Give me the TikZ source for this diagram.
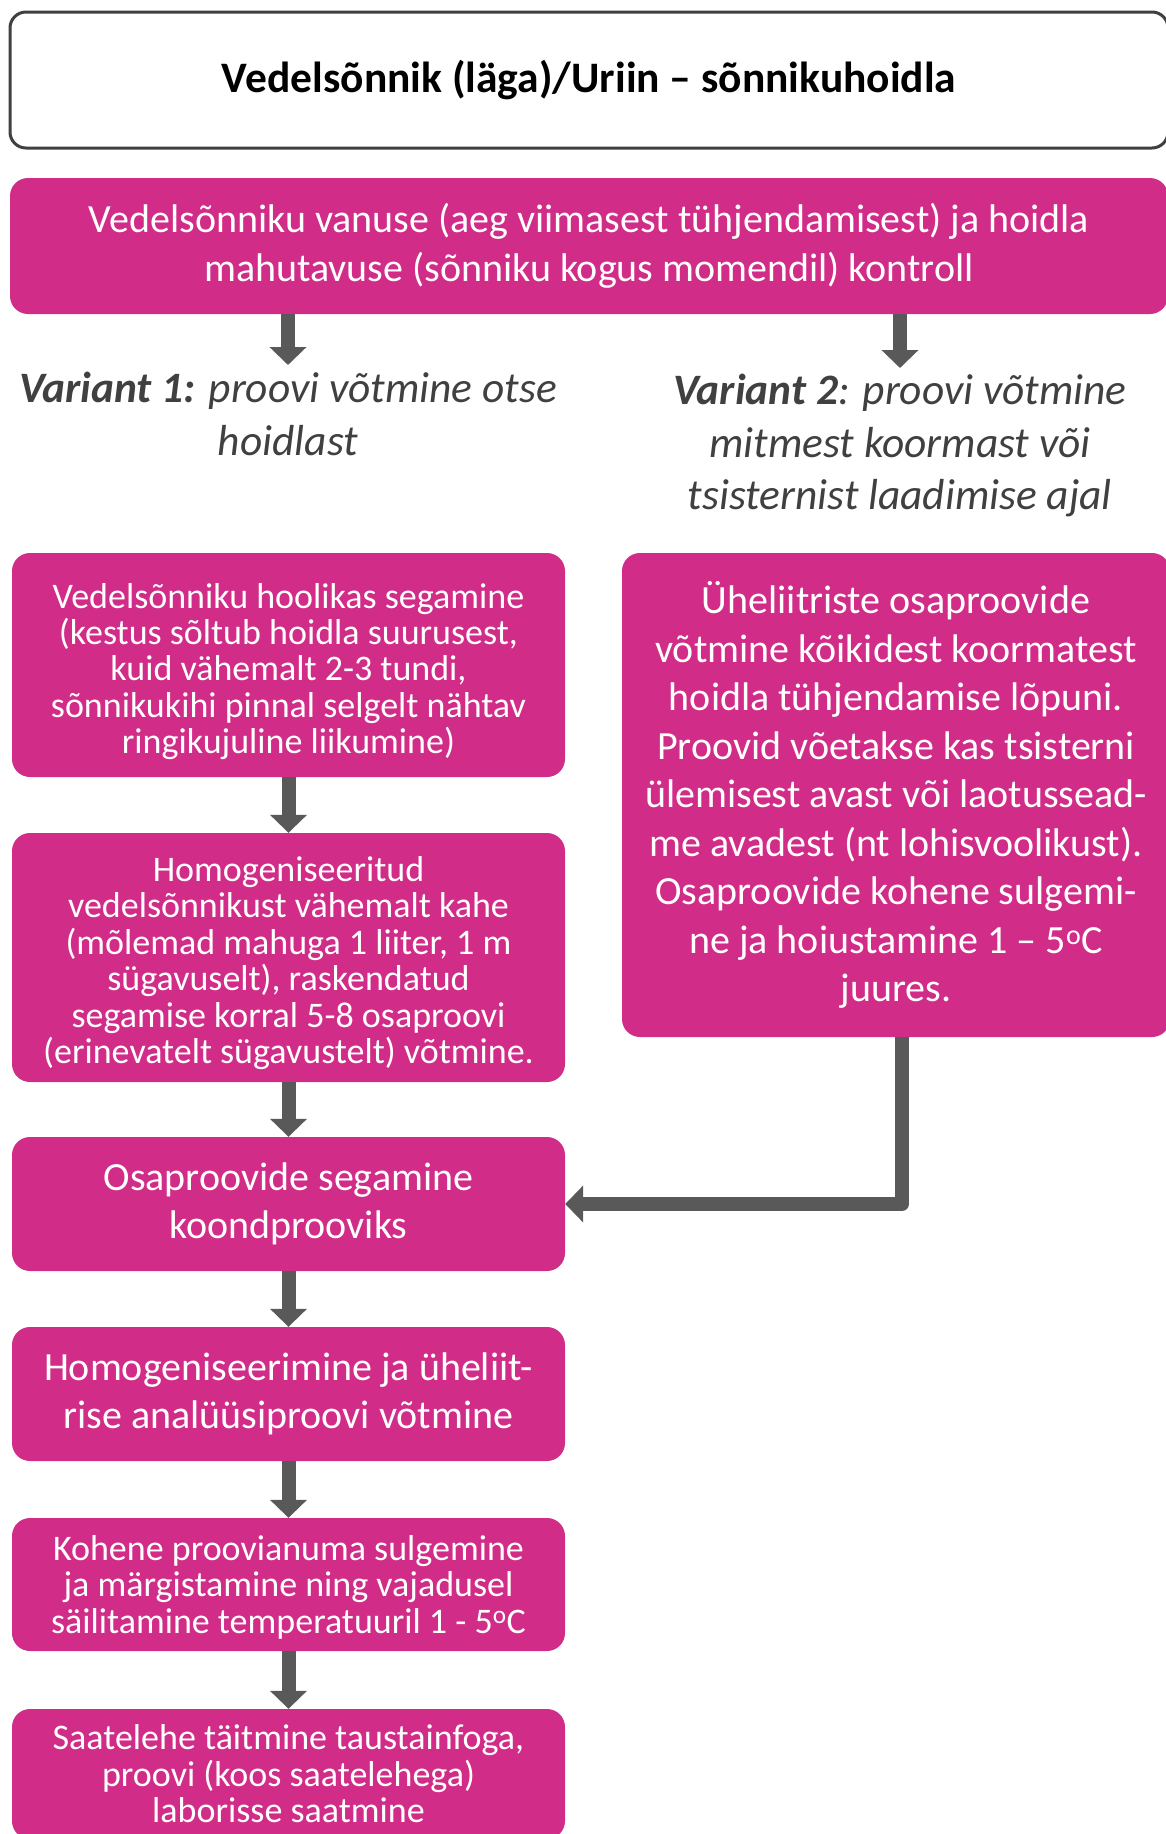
\documentclass[tikz,border=0pt]{standalone}
\usepackage{fontspec}
\setmainfont{Carlito}
\usetikzlibrary{arrows.meta}
\definecolor{pinkbox}{HTML}{D02C88}
\definecolor{arrgray}{HTML}{595959}
\definecolor{titleborder}{HTML}{404040}
\definecolor{vartext}{HTML}{404040}
\newcommand{\bigtxt}{\fontsize{40}{48.5}\selectfont}
\newcommand{\smalltxt}{\fontsize{36}{36.4}\selectfont}
\newcommand{\vartxt}{\fontsize{43.4}{52.6}\selectfont}
\newcommand{\toplift}[1]{\rule{0pt}{#1}}
\begin{document}
\begin{tikzpicture}[x=1pt,y=-1pt,
  pinkstep/.style={fill=pinkbox, draw=none, rounded corners=18pt, text=white,
    align=center, inner sep=0pt},
  conn/.style={draw=arrgray, line width=14pt, line join=round,
    -{Triangle[width=36pt,length=18pt]}},
  varlabel/.style={text=vartext, align=center, inner sep=0pt, anchor=north, font=\vartxt\itshape}]
\useasboundingbox (0,0) rectangle (1166,1834);
\clip (0,0) rectangle (1166,1834);

\node[draw=titleborder, line width=3pt, rounded corners=16pt, fill=white,
  minimum width=1158pt, minimum height=136pt, inner sep=0pt,
  font=\fontsize{43.5}{50}\selectfont\bfseries] (title) at (589,80)
  {Vedelsõnnik (läga)/Uriin – sõnnikuhoidla};

\node[pinkstep, minimum width=1158pt, minimum height=136pt, font=\bigtxt] (top) at (589,246)
  {Vedelsõnniku vanuse (aeg viimasest tühjendamisest) ja hoidla\\
   mahutavuse (sõnniku kogus momendil) kontroll};

\node[varlabel] (v1) at (288,372)
  {\textbf{Variant 1:} proovi võtmine otse\\ hoidlast};
\node[varlabel] (v2) at (900,374)
  {\textbf{Variant 2}: proovi võtmine\\ mitmest koormast või\\ tsisternist laadimise ajal};

\node[pinkstep, minimum width=553pt, minimum height=224pt, font=\smalltxt] (b2) at (288.5,665)
  {\toplift{38pt}Vedelsõnniku hoolikas segamine\\
   (kestus sõltub hoidla suurusest,\\
   kuid vähemalt 2-3 tundi,\\
   sõnnikukihi pinnal selgelt nähtav\\
   ringikujuline liikumine)};

\node[pinkstep, minimum width=553pt, minimum height=249pt, font=\smalltxt] (b3) at (288.5,957.5)
  {\toplift{36pt}Homogeniseeritud\\
   vedelsõnnikust vähemalt kahe\\
   (mõlemad mahuga 1 liiter, 1 m\\
   sügavuselt), raskendatud\\
   segamise korral 5-8 osaproovi\\
   (erinevatelt sügavustelt) võtmine.};

\node[pinkstep, minimum width=553pt, minimum height=134pt, font=\bigtxt] (b4) at (288.5,1204)
  {Osaproovide segamine\\ koondprooviks};

\node[pinkstep, minimum width=553pt, minimum height=134pt, font=\bigtxt] (b5) at (288.5,1394)
  {Homogeniseerimine ja üheliit-\\ rise analüüsiproovi võtmine};

\node[pinkstep, minimum width=553pt, minimum height=133pt, font=\smalltxt] (b6) at (288.5,1584.5)
  {\toplift{30pt}Kohene proovianuma sulgemine\\
   ja märgistamine ning vajadusel\\
   säilitamine temperatuuril 1 - 5\textsuperscript{o}C};

\node[pinkstep, minimum width=553pt, minimum height=130pt, font=\smalltxt] (b7) at (288.5,1774)
  {Saatelehe täitmine taustainfoga,\\
   proovi (koos saatelehega)\\
   laborisse saatmine};

\node[pinkstep, minimum width=548pt, minimum height=484pt, font=\bigtxt] (rb) at (896,795)
  {Üheliitriste osaproovide\\
   võtmine kõikidest koormatest\\
   hoidla tühjendamise lõpuni.\\
   Proovid võetakse kas tsisterni\\
   ülemisest avast või laotussead-\\
   me avadest (nt lohisvoolikust).\\
   Osaproovide kohene sulgemi-\\
   ne ja hoiustamine 1 – 5\textsuperscript{o}C\\
   juures.};

\coordinate (rbout) at ([xshift=6pt]rb.south);
\draw[conn] (top.south -| v1.north) -- ([yshift=7pt]v1.north);
\draw[conn] (top.south -| v2.north) -- ([yshift=6pt]v2.north);
\draw[conn] (b2.south) -- (b3.north);
\draw[conn] (b3.south) -- (b4.north);
\draw[conn] (b4.south) -- (b5.north);
\draw[conn] (b5.south) -- (b6.north);
\draw[conn] (b6.south) -- (b7.north);
\draw[conn] (rbout) |- (b4.east);
\end{tikzpicture}
\end{document}
